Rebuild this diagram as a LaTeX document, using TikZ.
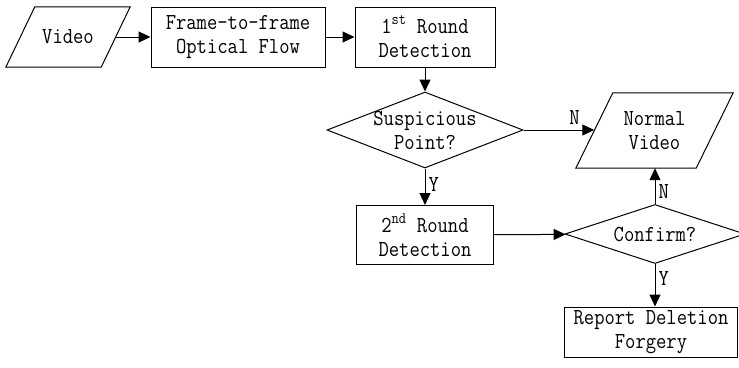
\documentclass[tikz,border=0pt]{standalone}
\usepackage{fontspec}
\newfontfamily\flowfont[FakeStretch=0.875]{Latin Modern Mono}
\usepackage{tikz}
\usetikzlibrary{positioning,shapes.geometric,arrows.meta}

\begin{document}
\begin{tikzpicture}[
  x=1pt, y=-1pt,
  font=\flowfont\fontsize{22.9}{24}\selectfont,
  proc/.style={draw, line width=1pt, align=center, inner sep=0pt, minimum height=60pt},
  io/.style={align=center, inner sep=0pt},
  dec/.style={draw, line width=1pt, align=center, diamond, inner sep=-6pt},
  arr/.style={-{Triangle[length=12pt,width=11pt]}, line width=1pt},
  lbl/.style={inner sep=3pt},
]
\useasboundingbox (0,0) rectangle (739,367);

% --- Top row ---
\node[io, minimum width=95pt, minimum height=60pt] (video) at (68,37) {Video};
\node[proc, minimum width=174pt] (flow) at (238,37) {Frame-to-frame\\Optical Flow};
\node[proc, minimum width=140pt] (det1) at (425,37) {1\textsuperscript{st} Round\\Detection};

% --- Decisions ---
\node[dec, aspect=2.58, minimum width=196pt, minimum height=76pt] (susp) at (425,130) {Suspicious\\Point?};
\node[io, minimum width=120pt, minimum height=75pt] (normal) at (654.5,130.5) {Normal\\Video};
\node[proc, minimum width=137pt, minimum height=59pt] (det2) at (425,235) {2\textsuperscript{nd} Round\\Detection};
\node[dec, aspect=3.1, minimum width=180pt, minimum height=59pt] (conf) at (655,234) {Confirm?};
\node[proc, minimum width=173pt, minimum height=50pt] (report) at (651,332) {Report Deletion\\Forgery};

% --- Parallelograms ---
\draw[line width=1pt] ([xshift=14.5pt]video.north west) -- ([xshift=14.5pt]video.north east)
  -- ([xshift=-14.5pt]video.south east) -- ([xshift=-14.5pt]video.south west) -- cycle;
\draw[line width=1pt] ([xshift=18.5pt]normal.north west) -- ([xshift=18.5pt]normal.north east)
  -- ([xshift=-18.5pt]normal.south east) -- ([xshift=-18.5pt]normal.south west) -- cycle;

% --- Edges ---
\draw[arr] (video) -- (flow);
\draw[arr] (flow) -- (det1);
\draw[arr] (det1) -- (susp);
\draw[arr] (susp.east) -- node[lbl, above=2pt, pos=0.72] {N} (normal.west |- susp.east);
\draw[arr] (susp) -- node[lbl, right, pos=0.45] {Y} (det2);
\draw[arr] (det2) -- (conf);
\draw[arr] (conf.north) -- node[lbl, right, pos=0.35] {N} (normal.south -| conf.north);
\draw[arr] (conf) -- node[lbl, right, pos=0.35] {Y} (report.north -| conf.south);
\end{tikzpicture}
\end{document}
